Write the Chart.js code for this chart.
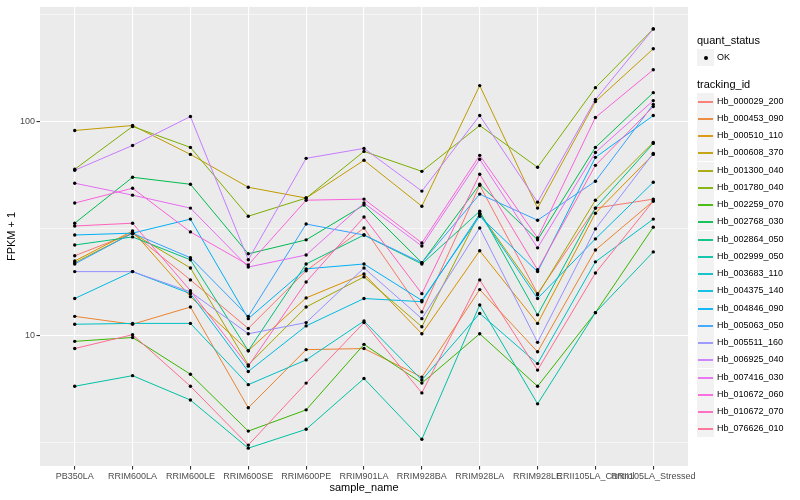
<!DOCTYPE html>
<html>
<head>
<meta charset="utf-8">
<script src="https://cdn.jsdelivr.net/npm/chart.js@4.4.1/dist/chart.umd.min.js"></script>
<style>
  html, body { margin: 0; padding: 0; background: #fff; }
  #wrap { position: relative; width: 800px; height: 500px; font-family: "Liberation Sans", Arial, sans-serif; }
  #chart { position: absolute; left: 0; top: 0; }
  .lg { position: absolute; white-space: nowrap; color: #000; }
  .lg-title { font-size: 11px; line-height: 13px; }
  .lg-text { font-size: 9px; line-height: 11px; }
  .lg-key { position: absolute; width: 17px; height: 17px; background: #F2F2F2; }
  .lg-line { position: absolute; left: 1px; width: 15px; top: 8px; height: 2px; opacity: 0.9; }
  .lg-dot { position: absolute; left: 6.5px; top: 6.5px; width: 4px; height: 4px; border-radius: 50%; background: #000; }
</style>
</head>
<body>
<div id="wrap">
  <canvas id="chart" width="800" height="500"></canvas>
  <div id="legend"></div>
</div>
<script>
  'use strict'
  //----------------
  //- Data
  //----------------
  const sampleNames = ['PB350LA', 'RRIM600LA', 'RRIM600LE', 'RRIM600SE', 'RRIM600PE', 'RRIM901LA',
    'RRIM928BA', 'RRIM928LA', 'RRIM928LE', 'RRII105LA_Control', 'RRII105LA_Stressed'];

  const trackingIds = ['Hb_000029_200', 'Hb_000453_090', 'Hb_000510_110', 'Hb_000608_370', 'Hb_001300_040',
    'Hb_001780_040', 'Hb_002259_070', 'Hb_002768_030', 'Hb_002864_050', 'Hb_002999_050',
    'Hb_003683_110', 'Hb_004375_140', 'Hb_004846_090', 'Hb_005063_050', 'Hb_005511_160',
    'Hb_006925_040', 'Hb_007416_030', 'Hb_010672_060', 'Hb_010672_070', 'Hb_076626_010'];

  // ggplot hue palette, 20 levels
  const lineColors = ['#F8766D', '#EA8331', '#D89000', '#C09B00', '#A3A500', '#7CAE00', '#39B600', '#00BB4E',
    '#00BF7D', '#00C1A3', '#00BFC4', '#00BAE0', '#00B0F6', '#35A2FF', '#9590FF', '#C77CFF',
    '#E76BF3', '#FA62DB', '#FF62BC', '#FF6C91'];

  // FPKM + 1 per sample (same order as sampleNames)
  const hb_000029_200 = [23.6, 30.1, 18.2, 10.8, 20.1, 31.8, 12.9, 50.4, 15.7, 39.4, 43.4];
  const hb_000453_090 = [12.3, 11.3, 13.6, 4.6, 8.6, 8.7, 6.4, 16.4, 8.4, 25.1, 42.5];
  const hb_000510_110 = [22.3, 30.8, 15.2, 8.5, 15.0, 19.4, 10.2, 24.9, 11.4, 37.3, 70.2];
  const hb_000608_370 = [90.8, 95.8, 70.2, 49.3, 43.9, 65.9, 40.2, 147.1, 39.4, 123.9, 218.6];
  const hb_001300_040 = [21.9, 30.1, 20.7, 7.3, 13.6, 18.8, 11.0, 37.3, 15.5, 42.9, 79.9];
  const hb_001780_040 = [59.8, 94.8, 75.7, 36.1, 43.9, 72.5, 58.5, 95.8, 61.1, 143.9, 270.7];
  const hb_002259_070 = [9.4, 9.8, 6.6, 3.58, 4.5, 9.1, 6.0, 10.2, 5.8, 12.8, 32.1];
  const hb_002768_030 = [33.5, 54.9, 50.9, 24.1, 28.0, 40.7, 21.9, 50.9, 28.0, 75.7, 136.4];
  const hb_002864_050 = [26.5, 28.9, 22.6, 8.5, 21.6, 29.5, 21.6, 38.1, 12.5, 39.4, 79.0];
  const hb_002999_050 = [5.8, 6.5, 5.0, 2.98, 3.65, 6.3, 3.28, 13.9, 4.8, 12.8, 24.6];
  const hb_003683_110 = [11.3, 11.4, 11.4, 5.9, 7.7, 11.7, 6.2, 12.7, 7.4, 22.1, 35.0];
  const hb_004375_140 = [14.9, 19.9, 15.7, 6.8, 11.1, 14.9, 14.4, 36.9, 14.9, 28.3, 52.0];
  const hb_004846_090 = [29.5, 30.1, 35.0, 12.0, 20.5, 21.6, 14.6, 36.1, 19.9, 68.0, 106.6];
  const hb_005063_050 = [21.6, 30.1, 23.1, 12.3, 33.2, 29.5, 21.9, 45.8, 34.6, 52.6, 120.0];
  const hb_005511_160 = [19.9, 19.9, 16.0, 10.2, 11.5, 20.7, 12.0, 31.8, 9.3, 31.5, 71.0];
  const hb_006925_040 = [59.2, 77.3, 105.5, 22.6, 67.3, 74.9, 47.3, 106.6, 42.0, 126.6, 270.7];
  const hb_007416_030 = [51.5, 45.3, 39.4, 20.9, 23.8, 41.6, 26.2, 66.6, 25.7, 71.7, 125.2];
  const hb_010672_060 = [41.6, 48.8, 30.5, 21.4, 42.9, 43.4, 27.1, 69.5, 28.6, 104.4, 174.5];
  const hb_010672_070 = [32.5, 33.5, 16.2, 7.2, 17.8, 35.8, 15.7, 56.7, 20.3, 62.4, 117.4];
  const hb_076626_010 = [8.7, 10.1, 5.8, 3.08, 6.0, 11.5, 5.4, 18.2, 6.9, 19.6, 42.5];

  const seriesValues = [hb_000029_200, hb_000453_090, hb_000510_110, hb_000608_370, hb_001300_040,
    hb_001780_040, hb_002259_070, hb_002768_030, hb_002864_050, hb_002999_050,
    hb_003683_110, hb_004375_140, hb_004846_090, hb_005063_050, hb_005511_160,
    hb_006925_040, hb_007416_030, hb_010672_060, hb_010672_070, hb_076626_010];

  // y axis: labelled ticks and minor grid values
  const yTickLabels = [10, 100];
  const yMinorGrid = [Math.pow(10, 0.5), Math.pow(10, 1.5), Math.pow(10, 2.5)];

  //----------------
  //- Chart
  //----------------
  const axisTextColor = '#4D4D4D';
  const fontFamily = '"Liberation Sans", Arial, sans-serif';

  // grey panel behind the grid
  const panelBackground = {
    id: 'panelBackground',
    beforeDraw(chart) {
      const { ctx, chartArea: a } = chart;
      ctx.save();
      ctx.fillStyle = '#EBEBEB';
      ctx.fillRect(a.left, a.top, a.right - a.left, a.bottom - a.top);
      ctx.restore();
    }
  };

  const toPoints = values => values.map((v, j) => ({ x: j, y: v }));

  // lines first (later ids on top), black points over everything
  const lineSets = trackingIds.map((id, i) => ({
    label: id,
    data: toPoints(seriesValues[i]),
    borderColor: lineColors[i],
    backgroundColor: lineColors[i],
    borderWidth: 1,
    pointRadius: 0,
    tension: 0,
    fill: false,
    order: trackingIds.length - i + 1
  }));
  const pointSets = trackingIds.map((id, i) => ({
    label: id + ' OK',
    data: toPoints(seriesValues[i]),
    showLine: false,
    pointRadius: 1.7,
    pointBackgroundColor: '#000',
    pointBorderWidth: 0,
    order: 0
  }));

  const isMajor = v => yTickLabels.some(t => Math.abs(t - v) < 1e-6);

  new Chart(document.getElementById('chart'), {
    type: 'line',
    data: { datasets: lineSets.concat(pointSets) },
    plugins: [panelBackground],
    options: {
      responsive: false,
      animation: false,
      layout: { padding: { left: 5, right: 112, top: 5, bottom: 5 } },
      plugins: { legend: { display: false }, tooltip: { enabled: false } },
      scales: {
        x: {
          type: 'linear',
          min: -0.6,
          max: sampleNames.length - 1 + 0.6,
          afterBuildTicks: s => { s.ticks = sampleNames.map((n, i) => ({ value: i })); },
          afterFit: s => { s.height = 29; },
          border: { display: false },
          grid: { color: '#FFFFFF', lineWidth: 1.1, tickColor: '#333333', tickLength: 3.5 },
          ticks: {
            autoSkip: false, maxRotation: 0, padding: 1.5,
            color: axisTextColor, font: { family: fontFamily, size: 9 },
            callback: v => sampleNames[v]
          },
          title: { display: true, text: 'sample_name', color: '#000', padding: 0, font: { family: fontFamily, size: 11 } }
        },
        y: {
          type: 'logarithmic',
          min: 2.46,
          max: 343,
          afterBuildTicks: s => {
            s.ticks = yMinorGrid.concat(yTickLabels).sort((a, b) => a - b).map(v => ({ value: v }));
          },
          afterFit: s => { s.width = 35; },
          border: { display: false },
          grid: {
            color: '#FFFFFF',
            lineWidth: ctx => (ctx.tick && isMajor(ctx.tick.value)) ? 1.1 : 0.55,
            tickColor: ctx => (ctx.tick && isMajor(ctx.tick.value)) ? '#333333' : 'rgba(0,0,0,0)',
            tickLength: 3.5
          },
          ticks: {
            autoSkip: false, padding: 1.5,
            color: axisTextColor, font: { family: fontFamily, size: 9 },
            callback: v => isMajor(v) ? String(v) : ''
          },
          title: { display: true, text: 'FPKM + 1', color: '#000', padding: 0, font: { family: fontFamily, size: 11 } }
        }
      }
    }
  });

  //----------------
  //- Legend (ggplot style)
  //----------------
  const legend = document.getElementById('legend');
  const add = (cls, text, left, top) => {
    const d = document.createElement('div');
    d.className = cls;
    if (text) d.textContent = text;
    d.style.left = left + 'px';
    d.style.top = top + 'px';
    legend.appendChild(d);
    return d;
  };

  add('lg lg-title', 'quant_status', 697, 34);
  const okKey = add('lg-key', '', 697, 49);
  const dot = document.createElement('div');
  dot.className = 'lg-dot';
  okKey.appendChild(dot);
  add('lg lg-text', 'OK', 717, 52);

  add('lg lg-title', 'tracking_id', 697, 77.5);
  trackingIds.forEach((id, i) => {
    const top = Math.round(92.5 + i * 17.26);
    const key = add('lg-key', '', 697, top);
    const ln = document.createElement('div');
    ln.className = 'lg-line';
    ln.style.background = lineColors[i];
    key.appendChild(ln);
    add('lg lg-text', id, 717, top + 3);
  });
</script>
</body>
</html>
